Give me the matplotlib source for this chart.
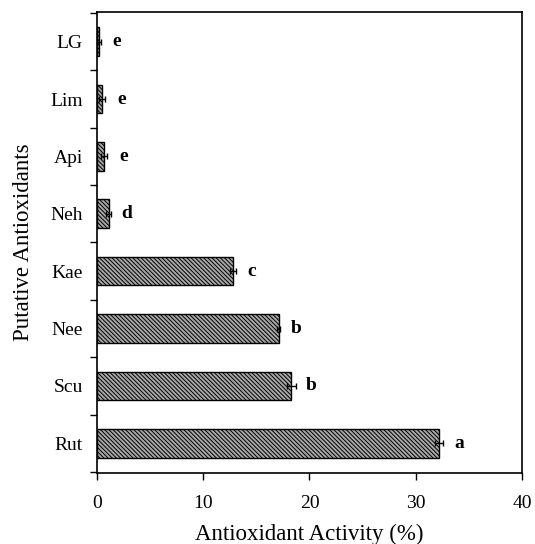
import matplotlib
matplotlib.use('Agg')
import matplotlib.pyplot as plt
import numpy as np

plt.rcParams['font.family'] = 'Liberation Serif'
plt.rcParams['hatch.linewidth'] = 0.7

# data, bottom to top
compounds = ['Rut', 'Scu', 'Nee', 'Kae', 'Neh', 'Api', 'Lim', 'LG']
activity = [32.2, 18.3, 17.1, 12.8, 1.1, 0.7, 0.5, 0.2]
errors = [0.4, 0.4, 0.15, 0.3, 0.2, 0.3, 0.3, 0.2]
groups = ['a', 'b', 'b', 'c', 'd', 'e', 'e', 'e']

fig = plt.figure(figsize=(5.35, 5.44), dpi=100)
ax = fig.add_axes([0.181, 0.1305, 0.795, 0.8475])

pos = np.arange(len(compounds))
ax.barh(pos, activity, height=0.5, color='#a8a8a8', edgecolor='black',
        hatch='\\\\\\\\\\\\\\\\', linewidth=1.0)
ax.errorbar(activity, pos, xerr=errors, fmt='none', ecolor='black',
            elinewidth=1.0, capsize=2.5, capthick=1.0)

for p, v, e, g in zip(pos, activity, errors, groups):
  ax.text(v + e + 1.5, p, g, ha='center', va='center', fontsize=14, fontweight='bold')

ax.set_xlim(0, 40)
ax.set_ylim(-0.52, 7.52)
ax.set_xticks([0, 10, 20, 30, 40])
ax.set_yticks(np.arange(-0.5, 7.6, 1.0), minor=True)
ax.set_yticks(pos)
ax.set_yticklabels(compounds)
ax.tick_params(axis='y', which='major', length=0, pad=10, labelsize=14)
ax.tick_params(axis='y', which='minor', length=5, width=1.0, direction='out')
ax.tick_params(axis='x', length=5, width=1.0, direction='out', labelsize=14, pad=11)
for s in ax.spines.values():
  s.set_linewidth(1.2)

ax.set_xlabel('Antioxidant Activity (%)', fontsize=16.5, labelpad=8)
ax.set_ylabel('Putative Antioxidants', fontsize=16.5, labelpad=12)

fig.savefig('out.png', dpi=100)
